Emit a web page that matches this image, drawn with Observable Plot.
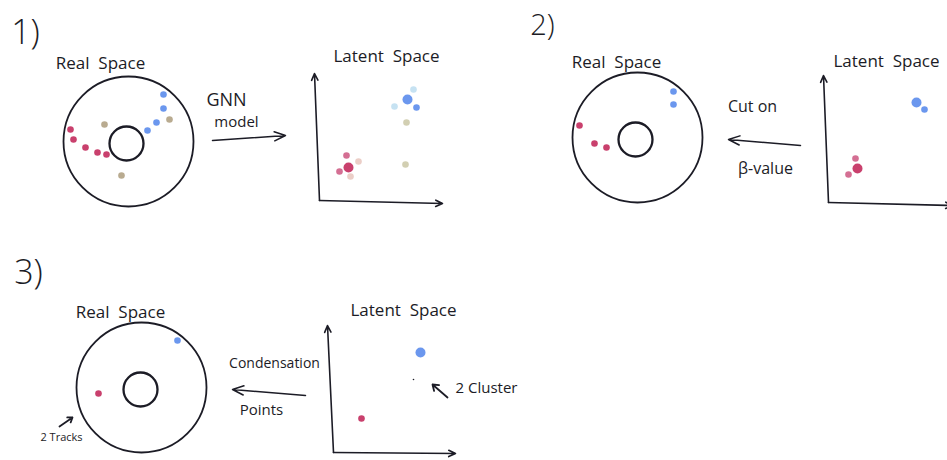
<!DOCTYPE html>
<html><head><meta charset="utf-8">
<script src="https://cdn.jsdelivr.net/npm/d3@7"></script>
<script src="https://cdn.jsdelivr.net/npm/@observablehq/plot@0.6"></script>
<style>body{margin:0;background:#fff}</style>
</head><body><div id="chart"></div>
<script>
// Detector rings (real space) per panel
const rings = [
  {panel: 1, kind: "outer", x: 128, y: 141}, {panel: 1, kind: "inner", x: 126, y: 143},
  {panel: 2, kind: "outer", x: 637, y: 137}, {panel: 2, kind: "inner", x: 635, y: 139},
  {panel: 3, kind: "outer", x: 141, y: 387}, {panel: 3, kind: "inner", x: 140, y: 389}
];
// Hits in real space: A = blue track, B = red track, N = noise
const real1 = [
  {x:163,y:94,c:"A"},{x:163,y:108,c:"A"},{x:156,y:122,c:"A"},{x:147,y:130,c:"A"},
  {x:169,y:119,c:"N"},{x:104,y:124,c:"N"},{x:121,y:175,c:"N"},
  {x:70,y:129,c:"B"},{x:73,y:139,c:"B"},{x:85,y:147,c:"B"},{x:97,y:152,c:"B"},{x:106,y:154,c:"B"}
];
const latent1 = [
  {x:413,y:89,c:"A pale"},{x:407,y:99,c:"A",big:true},{x:416,y:107,c:"A"},{x:394,y:106,c:"A pale"},
  {x:406,y:122,c:"N pale"},{x:405,y:164,c:"N pale"},
  {x:346,y:155,c:"B soft"},{x:358,y:161,c:"B pale"},{x:348,y:167,c:"B",big:true},{x:339,y:171,c:"B soft"},{x:350,y:176,c:"B pale"}
];
const real2 = [
  {x:673,y:91,c:"A"},{x:673,y:104,c:"A"},
  {x:579,y:125,c:"B"},{x:594,y:143,c:"B"},{x:606,y:147,c:"B"}
];
const latent2 = [
  {x:916,y:102,c:"A",big:true},{x:924,y:109,c:"A"},
  {x:855,y:158,c:"B soft"},{x:857,y:168,c:"B",big:true},{x:848,y:174,c:"B soft"}
];
const real3 = [{x:177,y:340,c:"A"},{x:98,y:393,c:"B"}];
const latent3 = [{x:420,y:352,c:"A",big:true},{x:361,y:418,c:"B"}];
const classes = ["A","A pale","B","B soft","B pale","N","N pale"];
const classColors = ["#6b97ee","#c6e2f2","#c9406d","#d46f93","#ebcec7","#b9ab90","#d2cfb2"];

// Latent-space axes (origin -> end)
const axes = [
  {x1:319,y1:200,x2:314,y2:73},{x1:319,y1:200,x2:442,y2:203},
  {x1:828,y1:202,x2:823,y2:75},{x1:828,y1:202,x2:952,y2:205},
  {x1:333,y1:452,x2:327,y2:325},{x1:333,y1:452,x2:455,y2:453}
];
const flowArrows = [
  {x1:212,y1:140,x2:285,y2:135},
  {x1:800,y1:145,x2:728,y2:139},
  {x1:305,y1:395,x2:232,y2:389}
];
const noteArrows = [
  {x1:59,y1:426,x2:72,y2:417},
  {x1:447,y1:397,x2:432,y2:384}
];
const stepLabels = [{x:25,y:33,t:"1)",s:34},{x:542,y:25,t:"2)",s:29},{x:28,y:273,t:"3)",s:34}];
const titles = [
  {x:100,y:63,t:"Real  Space"},{x:616,y:62,t:"Real  Space"},{x:120,y:312,t:"Real  Space"},
  {x:386,y:56,t:"Latent  Space"},{x:886,y:61,t:"Latent  Space"},{x:403,y:310,t:"Latent  Space"}
];
const notes = [
  {x:226,y:100,t:"GNN",s:18},{x:236,y:122,t:"model",s:15},
  {x:752,y:106,t:"Cut on",s:16},{x:765,y:168,t:"β-value",s:16},
  {x:274,y:363,t:"Condensation",s:14},{x:261,y:410,t:"Points",s:15},
  {x:61,y:437,t:"2 Tracks",s:11},{x:486,y:388,t:"2 Cluster",s:15}
];
const ink = "#1c1c26";
const allPoints = [...real1, ...latent1, ...real2, ...latent2, ...real3, ...latent3];

const chart = Plot.plot({
  width: 947, height: 460, margin: 0,
  style: {fontFamily: "'Open Sans', sans-serif", background: "#fff"},
  x: {domain: [0, 947], range: [0, 947], axis: null},
  y: {domain: [0, 460], range: [0, 460], axis: null},
  r: {type: "identity"},
  color: {domain: classes, range: classColors},
  marks: [
    Plot.dot(rings, {x: "x", y: "y", r: d => d.kind === "outer" ? 65 : 17, stroke: ink, strokeWidth: d => d.kind === "outer" ? 1.8 : 2.3, fill: "none"}),
    Plot.arrow(axes, {x1: "x1", y1: "y1", x2: "x2", y2: "y2", stroke: ink, strokeWidth: 1.6, headLength: 7, headAngle: 50}),
    Plot.arrow(flowArrows, {x1: "x1", y1: "y1", x2: "x2", y2: "y2", stroke: ink, strokeWidth: 1.5, headLength: 12, headAngle: 45}),
    Plot.arrow(noteArrows, {x1: "x1", y1: "y1", x2: "x2", y2: "y2", stroke: ink, strokeWidth: 1.8, headLength: 7, headAngle: 70}),
    Plot.dot(allPoints, {x: "x", y: "y", r: d => d.big ? 5 : 3.3, fill: "c"}),
    Plot.dot([{x:413,y:379}], {x: "x", y: "y", r: 0.8, fill: ink}),
    Plot.text(stepLabels, {x: "x", y: "y", text: "t", fontSize: d => d.s, fontWeight: 300, fill: ink}),
    Plot.text(titles, {x: "x", y: "y", text: "t", fontSize: 17, fontWeight: 400, fill: ink}),
    Plot.text(notes, {x: "x", y: "y", text: "t", fontSize: d => d.s, fontWeight: 400, fill: ink})
  ]
});
document.getElementById("chart").append(chart);
</script>
</body></html>
